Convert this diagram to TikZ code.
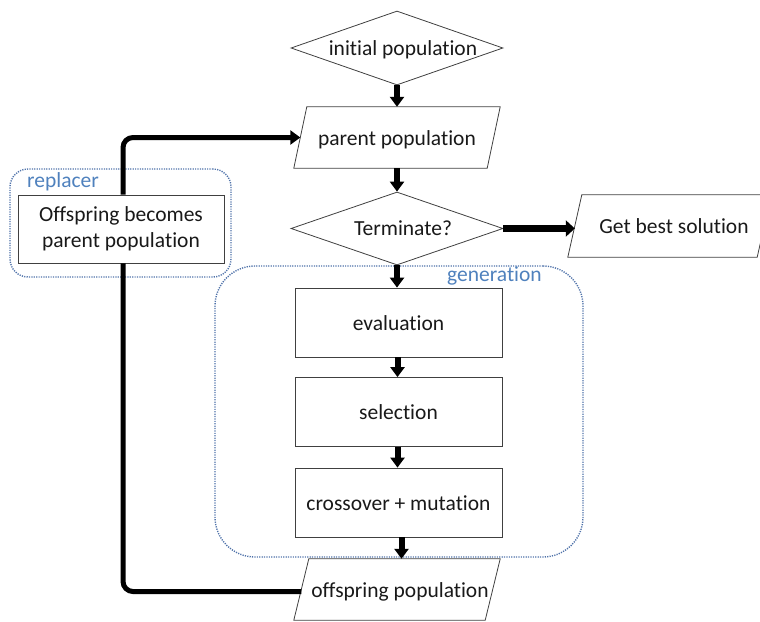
\documentclass[tikz,border=0pt]{standalone}
\usepackage{fontspec}
\setmainfont{Carlito}[Ligatures={NoCommon,NoContextual,NoRare}]
\usetikzlibrary{arrows.meta,shapes.geometric}

\definecolor{groupblue}{RGB}{79,129,189}
\definecolor{groupline}{RGB}{80,115,170}

% parallelogram drawn around a (borderless) body node
\newcommand{\iooutline}[2]{%
  \draw[outline] ([xshift=#2]#1.north west) -- ([xshift=#2]#1.north east)
    -- ([xshift=-#2]#1.south east) -- ([xshift=-#2]#1.south west) -- cycle;}

\begin{document}
\begin{tikzpicture}[x=1pt,y=-1pt,
  every node/.style={font=\fontsize{21.5}{26}\selectfont, text=black!90},
  oneline/.style={text height=15pt, text depth=0pt},
  outline/.style={draw=black!75, line width=0.8pt},
  decision/.style={diamond, outline, fill=white, minimum width=212pt, minimum height=74pt, inner sep=0pt},
  stepbox/.style={rectangle, outline, fill=white, minimum width=207pt, minimum height=69pt, inner sep=0pt, oneline},
  iobody/.style={rectangle, minimum height=61pt, inner sep=0pt, oneline},
  grp/.style={rectangle, draw=groupline, line width=1.4pt, dash pattern=on 1.2pt off 1.2pt, inner sep=0pt},
  grplabel/.style={text=groupblue, inner sep=0pt},
  flow/.style={line width=6pt, -{Triangle[width=14pt,length=10pt]}},
  exitflow/.style={line width=7pt, -{Triangle[width=16pt,length=9pt]}},
  loopflow/.style={line width=5pt, rounded corners=10pt}]

\useasboundingbox (0,0) rectangle (760,621);

% dotted groups
\node[grp, rounded corners=40pt, minimum width=368pt, minimum height=291pt] (gen) at (399,411.5) {};
\node[grplabel] (genlabel) at (494.5,276) {generation};
\node[grp, rounded corners=18pt, minimum width=221pt, minimum height=108pt] (repgrp) at (120.5,223) {};
\node[grplabel, anchor=west] (replabel) at (27,182) {replacer};

% main column
\node[decision] (init) at (397,48) {};
\node[oneline, inner sep=0pt] (inittext) at (403,48) {initial population};

\node[iobody, minimum width=193pt] (parent) at (397,137.5) {parent population};
\iooutline{parent}{6.5pt}

\node[decision, minimum height=73pt] (term) at (397,228.5) {};
\node[oneline, inner sep=0pt] (termtext) at (403,228) {Terminate?};

\node[iobody, minimum width=189pt, minimum height=62pt] (best) at (669.5,226) {\hspace*{9pt}Get best solution};
\iooutline{best}{7pt}

\node[stepbox] (eval) at (398.5,322.5) {evaluation};
\node[stepbox] (sel) at (398.5,412) {selection};
\node[stepbox] (cross) at (398.5,502.5) {crossover + mutation};

\node[iobody, minimum width=191pt] (off) at (397,589.5) {\hspace*{6pt}offspring population};
\iooutline{off}{7.5pt}

\node[rectangle, outline, fill=white, minimum width=206pt, minimum height=68pt, inner sep=0pt, align=center] (rep) at (121,229) {Offspring becomes\\parent population};

% connectors
\draw[flow] (init.south) -- (init.south |- parent.north);
\draw[flow] (parent.south) -- (parent.south |- term.north);
\draw[exitflow] (term.east) -- (term.east -| best.west);
\draw[flow] (term.south) -- (term.south |- eval.north);
\draw[flow] ([xshift=-1pt]eval.south) -- ([xshift=-1pt]sel.north);
\draw[flow] ([xshift=-1pt]sel.south) -- ([xshift=-1pt]cross.north);
\draw[flow] ([xshift=3pt]cross.south) -- ([xshift=3pt]cross.south |- off.north);
\draw[loopflow] ([yshift=-2pt]off.west) -| ([xshift=2pt]rep.south);
\draw[loopflow, -{Triangle[width=14pt,length=10pt]}] ([xshift=2pt]rep.north) |- (parent.west);

\end{tikzpicture}
\end{document}
